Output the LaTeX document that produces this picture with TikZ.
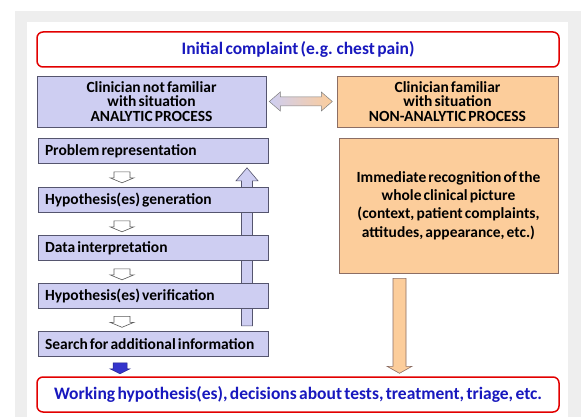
\documentclass[tikz,border=0pt]{standalone}
\usepackage{fontspec}
\setmainfont{Carlito}[WordSpace=0.6]
\usetikzlibrary{calc,backgrounds}

\definecolor{bggrey}{RGB}{238,238,238}
\definecolor{lavender}{RGB}{206,206,242}
\definecolor{lavedge}{RGB}{85,85,110}
\definecolor{peach}{RGB}{252,205,155}
\definecolor{peachedge}{RGB}{140,110,100}
\definecolor{framered}{RGB}{226,0,0}
\definecolor{textblue}{RGB}{24,24,190}
\definecolor{fillblue}{RGB}{52,52,204}

\begin{document}
\begin{tikzpicture}[x=1pt, y=-1pt,
	redbox/.style={draw=framered, line width=1.5pt, rounded corners=6pt, fill=white, minimum width=522pt, minimum height=35pt, text=textblue, font=\bfseries\fontsize{17.5}{20}\selectfont},
	headbox/.style={line width=0.6pt, minimum height=51pt, align=flush center, inner sep=0pt, font=\bfseries\fontsize{15.5}{14.8}\selectfont},
	stepbox/.style={draw=lavedge, fill=lavender, line width=0.6pt, minimum height=25pt, text width=216pt, inner xsep=7pt, inner ysep=0pt, align=flush left, font=\bfseries\fontsize{15.5}{17}\selectfont},
	hollowarrow/.style={draw=gray!70!black, fill=white, line width=0.6pt}]
	\useasboundingbox (0,0) rectangle (581,417);
	%les cadres
	\node[redbox] (complaint) at (298,49.5) {Initial complaint (e.g. chest pain)};
	\node[headbox, draw=lavedge, fill=lavender, minimum width=229pt] (analytic) at (151.5,101.5) {Clinician not familiar\\with situation\\ANALYTIC PROCESS};
	\node[headbox, draw=peachedge, fill=peach, minimum width=221pt] (nonanalytic) at (447.5,101.5) {Clinician familiar\\with situation\\NON-ANALYTIC PROCESS};
	\node[stepbox] (problem) at (153,151) {Problem representation};
	\node[stepbox] (generation) at (153,200) {Hypothesis(es) generation};
	\node[stepbox] (interpretation) at (153,248) {Data interpretation};
	\node[stepbox] (verification) at (153,295.5) {Hypothesis(es) verification};
	\node[stepbox] (search) at (153,344) {Search for additional information};
	\node[draw=peachedge, fill=peach, line width=0.6pt, minimum width=219pt, minimum height=135pt, align=flush center, font=\bfseries\fontsize{15.5}{18.3}\selectfont] (recognition) at (448.5,205.5) {Immediate recognition of the\\whole clinical picture\\(context, patient complaints,\\attitudes, appearance, etc.)};
	\node[redbox] (working) at (298,394.5) {Working hypothesis(es), decisions about tests, treatment, triage, etc.};
	%les fleches
	\draw[gray, line width=0.5pt, left color=lavender, right color=peach, shift={(analytic.east)}] (3,0) -- (14,-9.5) -- (14,-4.5) -- (55,-4.5) -- (55,-9.5) -- (66,0) -- (55,9.5) -- (55,4.5) -- (14,4.5) -- (14,9.5) -- cycle;
	\draw[hollowarrow, shift={($(problem.south)+(-31,0)$)}] (-8,8) -- (8,8) -- (8,14) -- (12,14) -- (0,19) -- (-12,14) -- (-8,14) -- cycle;
	\draw[hollowarrow, shift={($(generation.south)+(-31,0)$)}] (-8,8) -- (8,8) -- (8,14) -- (12,14) -- (0,19) -- (-12,14) -- (-8,14) -- cycle;
	\draw[hollowarrow, shift={($(interpretation.south)+(-31,0)$)}] (-8,8) -- (8,8) -- (8,14) -- (12,14) -- (0,19) -- (-12,14) -- (-8,14) -- cycle;
	\draw[hollowarrow, shift={($(verification.south)+(-31,0)$)}] (-8,8) -- (8,8) -- (8,14) -- (12,14) -- (0,19) -- (-12,14) -- (-8,14) -- cycle;
	\draw[draw=fillblue!70!black, fill=fillblue, line width=0.5pt, shift={($(search.south)+(-33,0)$)}] (-7,6) -- (7,6) -- (7,12) -- (10,12) -- (0,17) -- (-10,12) -- (-7,12) -- cycle;
	\draw[draw=peachedge, fill=peach, line width=0.6pt, shift={($(recognition.south)+(-49,0)$)}] (-6.5,5) -- (6.5,5) -- (6.5,93) -- (12.5,93) -- (0,100) -- (-12.5,93) -- (-6.5,93) -- cycle;
	%fond et retour
	\begin{scope}[on background layer]
		\fill[white] (0,0) rectangle (581,417);
		\fill[bggrey] (15,11) rectangle (581,417);
		\fill[white] (27,22) rectangle (568,417);
		\draw[draw=lavedge, fill=lavender, line width=0.6pt, shift={($(problem.south)+(94,0)$)}] (0,4) -- (11,17) -- (5.5,17) -- (5.5,162) -- (-5.5,162) -- (-5.5,17) -- (-11,17) -- cycle;
	\end{scope}
\end{tikzpicture}
\end{document}
